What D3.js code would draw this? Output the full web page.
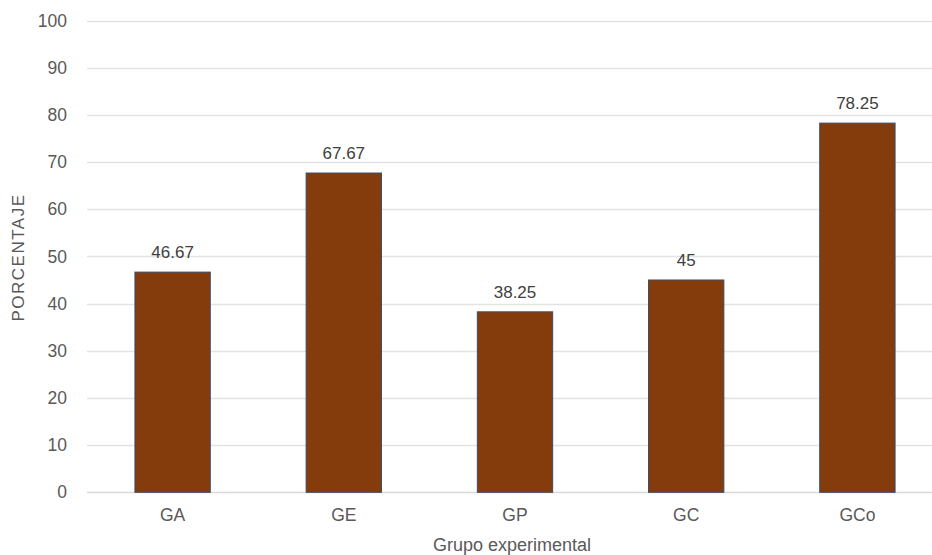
<!DOCTYPE html>
<html>
<head>
<meta charset="utf-8">
<script src="https://cdn.jsdelivr.net/npm/d3@7"></script>
<style>
  html, body { margin: 0; padding: 0; background: #ffffff; }
  svg { display: block; }
  text { font-family: "Liberation Sans", Arial, sans-serif; }
</style>
</head>
<body>
<div id="chart"></div>
<script>
// Porcentaje por grupo experimental
const categories = ["GA", "GE", "GP", "GC", "GCo"];
const values = [46.67, 67.67, 38.25, 45, 78.25];
const valueLabels = ["46.67", "67.67", "38.25", "45", "78.25"];
const yTicks = [0, 10, 20, 30, 40, 50, 60, 70, 80, 90, 100];
const xTitle = "Grupo experimental";
const yTitle = "PORCENTAJE";

const width = 932, height = 555;
const plot = { left: 87, right: 943, top: 20.5, bottom: 492.3 };
const fontFamily = "\"Liberation Sans\", Arial, sans-serif";

const svg = d3.select("#chart").append("svg")
  .attr("width", width)
  .attr("height", height);

const x = d3.scaleBand()
  .domain(categories)
  .range([plot.left, plot.right])
  .paddingInner(0.56)
  .paddingOuter(0.28);

const y = d3.scaleLinear()
  .domain([0, 100])
  .range([plot.bottom, plot.top]);

// horizontal gridlines
svg.append("g")
  .selectAll("line")
  .data(yTicks)
  .join("line")
  .attr("x1", plot.left)
  .attr("x2", plot.right)
  .attr("y1", d => Math.round(y(d)) + 0.5)
  .attr("y2", d => Math.round(y(d)) + 0.5)
  .attr("stroke", d => d === 0 ? "#d9d9d9" : "#e3e3e3")
  .attr("stroke-width", 1.3);

// y-axis tick labels
const yAxis = d3.axisLeft(y).tickValues(yTicks).tickSize(0).tickPadding(0);
const yg = svg.append("g")
  .attr("transform", `translate(${67},0)`)
  .call(yAxis);
yg.select(".domain").remove();
yg.selectAll("text")
  .attr("font-size", 17.5)
  .attr("fill", "#595959")
  .attr("font-family", fontFamily);

// x-axis category labels
const xAxis = d3.axisBottom(x).tickSize(0).tickPadding(0);
const xg = svg.append("g")
  .attr("transform", `translate(0,${plot.bottom + 16.5})`)
  .call(xAxis);
xg.select(".domain").remove();
xg.selectAll("text")
  .attr("font-size", 17.5)
  .attr("fill", "#595959")
  .attr("font-family", fontFamily);

// bars
svg.append("g")
  .selectAll("rect")
  .data(categories.map((c, i) => ({ c, v: values[i] })))
  .join("rect")
  .attr("x", d => x(d.c))
  .attr("y", d => y(d.v))
  .attr("width", x.bandwidth())
  .attr("height", d => y(0) - y(d.v))
  .attr("fill", "#843c0c")
  .attr("stroke", "#3b4a66")
  .attr("stroke-width", 1);

// value labels
svg.append("g")
  .selectAll("text")
  .data(categories.map((c, i) => ({ c, v: values[i], t: valueLabels[i] })))
  .join("text")
  .attr("x", d => x(d.c) + x.bandwidth() / 2)
  .attr("y", d => y(d.v) - 14)
  .attr("text-anchor", "middle")
  .attr("font-size", 17)
  .attr("fill", "#404040")
  .text(d => d.t);

// axis titles
svg.append("text")
  .attr("x", 512)
  .attr("y", 551)
  .attr("text-anchor", "middle")
  .attr("font-size", 18)
  .attr("fill", "#595959")
  .text(xTitle);

svg.append("text")
  .attr("transform", `translate(24,${257.5}) rotate(-90)`)
  .attr("text-anchor", "middle")
  .attr("font-size", 17)
  .attr("letter-spacing", 1.5)
  .attr("fill", "#595959")
  .text(yTitle);
</script>
</body>
</html>
